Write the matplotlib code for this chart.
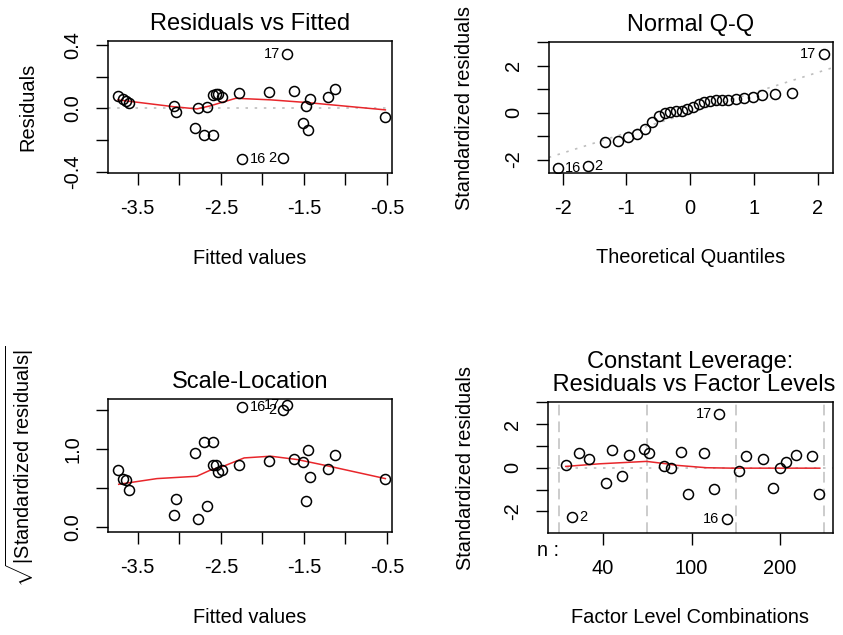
import matplotlib
matplotlib.use('Agg')
import matplotlib.pyplot as plt

plt.rcParams['font.family'] = ['Liberation Sans', 'DejaVu Sans']
plt.rcParams['axes.unicode_minus'] = False
plt.rcParams['mathtext.fontset'] = 'custom'
plt.rcParams['mathtext.rm'] = 'Liberation Sans'
plt.rcParams['mathtext.it'] = 'Liberation Sans:italic'

# --- residuals vs fitted / scale-location (same fitted values) ---
fitted = [-3.74, -3.68, -3.64, -3.61, -3.06, -3.04, -2.81, -2.78, -2.70, -2.67,
          -2.60, -2.59, -2.56, -2.54, -2.49, -2.28, -1.92, -1.625, -1.70, -1.75,
          -2.24, -1.51, -1.48, -1.45, -1.43, -1.21, -1.13, -0.52]
resid = [0.081, 0.060, 0.049, 0.033, 0.014, -0.020, -0.125, 0.003, -0.167, 0.011,
         -0.167, 0.082, 0.090, 0.090, 0.075, 0.096, 0.104, 0.110, 0.343, -0.310,
         -0.320, -0.093, 0.016, -0.135, 0.060, 0.074, 0.121, -0.051]
sqrt_std_resid = [0.73, 0.62, 0.60, 0.48, 0.15, 0.365, 0.95, 0.11, 1.09, 0.27,
                  1.09, 0.79, 0.80, 0.71, 0.73, 0.79, 0.845, 0.87, 1.57, 1.50,
                  1.535, 0.835, 0.33, 0.99, 0.64, 0.74, 0.92, 0.62]
obs_ids = [''] * 18 + ['17', '2', '16'] + [''] * 7

rf_smooth_x = [-3.74, -3.07, -2.79, -2.63, -2.32, -1.90, -1.46, -0.52]
rf_smooth_y = [0.054, 0.011, -0.003, 0.016, 0.064, 0.054, 0.037, -0.009]
sl_smooth_x = [-3.73, -3.27, -2.79, -2.63, -2.47, -2.22, -1.90, -1.58, -1.25, -0.52]
sl_smooth_y = [0.549, 0.622, 0.652, 0.729, 0.78, 0.887, 0.909, 0.866, 0.793, 0.622]

# --- normal Q-Q ---
qq_theory = [-2.08, -1.61, -1.34, -1.14, -0.98, -0.84, -0.71, -0.60, -0.49, -0.39,
             -0.31, -0.22, -0.13, -0.05, 0.04, 0.13, 0.22, 0.31, 0.40, 0.50,
             0.60, 0.72, 0.84, 0.98, 1.13, 1.33, 1.60, 2.09]
qq_sample = [-2.36, -2.26, -1.23, -1.19, -1.02, -0.92, -0.70, -0.38, -0.14, 0.0,
             0.04, 0.06, 0.09, 0.16, 0.25, 0.38, 0.46, 0.51, 0.53, 0.54,
             0.56, 0.60, 0.63, 0.65, 0.74, 0.78, 0.86, 2.49]
qq_ids = ['16', '2'] + [''] * 25 + ['17']
qq_slope = 0.86
qq_intercept = 0.0

# --- constant leverage: residuals vs factor levels ---
fl_pos = [0.076, 0.152, 0.227, 0.340, 0.529, 0.605, 0.714, 0.789, 0.963,
          1.016, 1.186, 1.273, 1.386, 1.461, 1.642, 1.755, 1.812, 1.896,
          2.039, 2.122, 2.310, 2.417, 2.499, 2.567, 2.681, 2.858, 2.944]
fl_resid = [0.14, -2.26, 0.67, 0.41, -0.70, 0.79, -0.40, 0.56, 0.87,
            0.67, 0.07, 0.0, 0.74, -1.19, 0.67, -0.99, 2.47, -2.33,
            -0.15, 0.53, 0.39, -0.91, 0.0, 0.26, 0.56, 0.52, -1.19]
fl_ids = ['', '2'] + [''] * 14 + ['17', '16'] + [''] * 9
fl_smooth_x = [0.076, 0.461, 0.99, 1.216, 1.33, 1.669, 1.97, 2.952]
fl_smooth_y = [0.06, 0.18, 0.29, 0.18, 0.11, 0.0, -0.02, -0.02]
fl_bounds = [0, 1, 2, 3]
fl_levels = ['40', '100', '200']
fl_level_pos = [0.5, 1.5, 2.5]

LAB = 14.4
TITLE = 17
IDS = 10.5
GRAY = '#bebebe'
RED = '#e8262b'


def style(ax, xt, xl, yt, yl, xlim, ylim):
    ax.set_xlim(*xlim)
    ax.set_ylim(*ylim)
    ax.set_xticks(xt, labels=xl)
    ax.set_yticks(yt, labels=yl)
    ax.tick_params(direction='out', length=8.6, width=1, labelsize=LAB, pad=10)
    ax.tick_params(axis='y', labelrotation=90)
    for t in ax.get_yticklabels():
        t.set_va('center')
    for s in ax.spines.values():
        s.set_linewidth(1.1)


def circles(ax, x, y):
    ax.plot(x, y, 'o', mfc='none', mec='black', ms=7.2, mew=1.1, ls='none')


def ids(ax, x, y, labels):
    mid = (min(x) + max(x)) / 2
    for xi, yi, lab in zip(x, y, labels):
        if not lab:
            continue
        if xi < mid:
            ax.annotate(lab, (xi, yi), xytext=(5, 0), textcoords='offset points',
                        ha='left', va='center', fontsize=IDS)
        else:
            ax.annotate(lab, (xi, yi), xytext=(-5, 0), textcoords='offset points',
                        ha='right', va='center', fontsize=IDS)


def labels(ax, xlabel, ylabel, ylx):
    ax.set_xlabel(xlabel, fontsize=LAB, va='center')
    ax.xaxis.set_label_coords(0.5, -0.645)
    ax.set_ylabel(ylabel, fontsize=LAB, va='center')
    ax.yaxis.set_label_coords(ylx, 0.5)


fig = plt.figure(figsize=(8.43, 6.35), dpi=100)
ax1 = fig.add_axes([0.128, 0.7276, 0.337, 0.208])
ax2 = fig.add_axes([0.651, 0.7276, 0.337, 0.206])
ax3 = fig.add_axes([0.128, 0.162, 0.337, 0.2094])
ax4 = fig.add_axes([0.650, 0.1606, 0.338, 0.206])

fx = [-3.5, -3.0, -2.5, -2.0, -1.5, -1.0, -0.5]
fxl = ['-3.5', '', '-2.5', '', '-1.5', '', '-0.5']

# panel 1
ax1.axhline(0, color=GRAY, lw=1.2, ls=(0, (1.5, 4)))
ax1.plot(rf_smooth_x, rf_smooth_y, color=RED, lw=1.1)
circles(ax1, fitted, resid)
ids(ax1, fitted, resid, obs_ids)
style(ax1, fx, fxl, [-0.4, -0.2, 0.0, 0.2, 0.4], ['-0.4', '', '0.0', '', '0.4'],
      (-3.86, -0.44), (-0.406, 0.425))
ax1.set_title('Residuals vs Fitted', fontsize=TITLE, pad=8)
labels(ax1, 'Fitted values', 'Residuals', -0.282)

# panel 2
ax2.axline((0, qq_intercept), slope=qq_slope, color=GRAY, lw=1.2, ls=(0, (1.5, 4)))
circles(ax2, qq_theory, qq_sample)
ids(ax2, qq_theory, qq_sample, qq_ids)
style(ax2, [-2, -1, 0, 1, 2], ['-2', '-1', '0', '1', '2'],
      [-2, -1, 0, 1, 2, 3], ['-2', '', '0', '', '2', ''],
      (-2.218, 2.237), (-2.57, 3.01))
ax2.set_title('Normal Q-Q', fontsize=TITLE, pad=8)
labels(ax2, 'Theoretical Quantiles', 'Standardized residuals', -0.296)

# panel 3
ax3.plot(sl_smooth_x, sl_smooth_y, color=RED, lw=1.1)
circles(ax3, fitted, sqrt_std_resid)
ids(ax3, fitted, sqrt_std_resid, obs_ids)
style(ax3, fx, fxl, [0.0, 0.5, 1.0, 1.5], ['0.0', '', '1.0', ''],
      (-3.86, -0.44), (-0.064, 1.64))
ax3.set_title('Scale-Location', fontsize=TITLE, pad=8)
labels(ax3, 'Fitted values', r'$\sqrt{|\mathrm{Standardized\ residuals}|}$', -0.31)

# panel 4
for b in fl_bounds:
    ax4.axvline(b, color=GRAY, lw=1.1, ls=(0, (7, 4)))
ax4.axhline(0, color=GRAY, lw=1.2, ls=(0, (1.5, 4)))
ax4.plot(fl_smooth_x, fl_smooth_y, color=RED, lw=1.1)
circles(ax4, fl_pos, fl_resid)
ids(ax4, fl_pos, fl_resid, fl_ids)
style(ax4, fl_level_pos, fl_levels, [-2, -1, 0, 1, 2, 3], ['-2', '', '0', '', '2', ''],
      (-0.125, 3.10), (-2.99, 3.0))
ax4.set_title('Constant Leverage:\n Residuals vs Factor Levels', fontsize=TITLE, pad=8,
              linespacing=1.05)
labels(ax4, 'Factor Level Combinations', 'Standardized residuals', -0.291)
ax4.text(0.0, -0.13, 'n :', transform=ax4.get_xaxis_transform(), ha='right', va='center',
         fontsize=LAB)

fig.savefig('out.png', dpi=100)
